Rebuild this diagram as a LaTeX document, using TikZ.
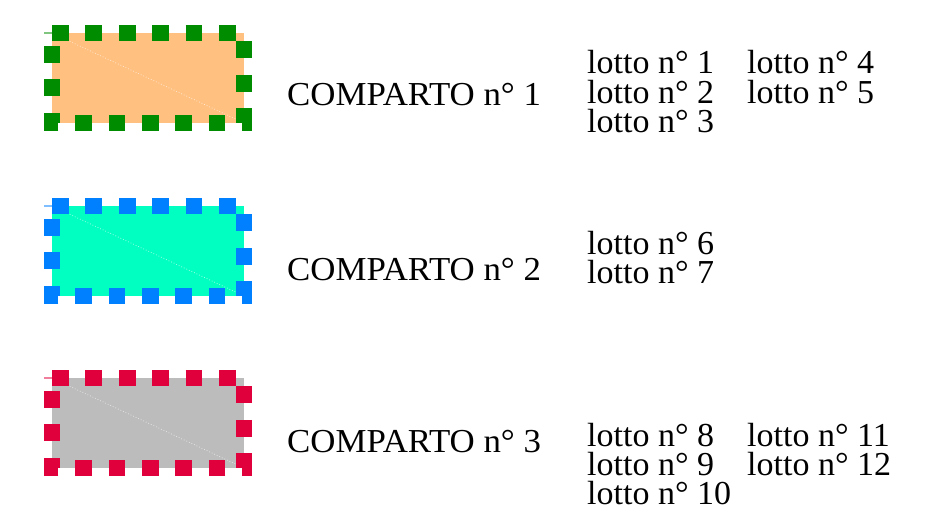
\documentclass[tikz,border=0pt]{standalone}
\usepackage{fontspec}
\setmainfont{Liberation Serif}
\newfontfamily\compfont[FakeStretch=1.04]{Liberation Serif}
\newfontfamily\lotfont[FakeStretch=1.015]{Liberation Serif}
\definecolor{orangefill}{RGB}{255,192,128}
\definecolor{greenline}{RGB}{0,140,0}
\definecolor{cyanfill}{RGB}{0,255,192}
\definecolor{blueline}{RGB}{0,128,255}
\definecolor{grayfill}{RGB}{188,188,188}
\definecolor{redline}{RGB}{224,0,60}
\begin{document}
\begin{tikzpicture}[x=1pt,y=-1pt,
  comptext/.style={anchor=base west, inner sep=0pt, text height=22pt, text depth=5pt, font=\compfont\fontsize{33.5}{30}\selectfont},
  lottext/.style={anchor=base west, inner sep=0pt, text height=22pt, text depth=5pt, font=\lotfont\fontsize{33.5}{30}\selectfont},
  zoneborder/.style={line width=16.7pt, dash pattern=on 16.7pt off 16.7pt, line cap=butt, line join=miter},
  stubline/.style={line width=1.2pt, opacity=0.5},
  diagline/.style={draw=white, line width=0.8pt, dotted, opacity=0.6}]
\useasboundingbox (0,0) rectangle (949,511);

% ---- Comparto 1
\coordinate (a1) at (52,33);
\coordinate (b1) at (244,123);
\fill[orangefill] (a1) rectangle (b1);
\draw[diagline] (a1) -- (b1);
\draw[zoneborder, greenline] (a1) -- (a1 -| b1) -- (b1) -- (b1 -| a1) -- (a1);
\coordinate (s1) at (44,33);
\coordinate (t1) at (44,121);
\draw[stubline, greenline] (s1) -- (a1);
\draw[stubline, greenline] (t1) -- (t1 -| a1);
\node[comptext] (c1) at (287,105) {COMPARTO n° 1};
\node[lottext] (l1) at (587,73) {lotto n° 1};
\node[lottext] (l2) at (587,103) {lotto n° 2};
\node[lottext] (l3) at (587,132) {lotto n° 3};
\node[lottext] (l4) at (747,73) {lotto n° 4};
\node[lottext] (l5) at (747,103) {lotto n° 5};

% ---- Comparto 2
\coordinate (a2) at (52,206);
\coordinate (b2) at (244,296);
\fill[cyanfill] (a2) rectangle (b2);
\draw[diagline] (a2) -- (b2);
\draw[zoneborder, blueline] (a2) -- (a2 -| b2) -- (b2) -- (b2 -| a2) -- (a2);
\coordinate (s2) at (44,206);
\coordinate (t2) at (44,294);
\draw[stubline, blueline] (s2) -- (a2);
\draw[stubline, blueline] (t2) -- (t2 -| a2);
\node[comptext] (c2) at (287,280) {COMPARTO n° 2};
\node[lottext] (l6) at (587,254) {lotto n° 6};
\node[lottext] (l7) at (587,283) {lotto n° 7};

% ---- Comparto 3
\coordinate (a3) at (52,378);
\coordinate (b3) at (244,468);
\fill[grayfill] (a3) rectangle (b3);
\draw[diagline] (a3) -- (b3);
\draw[zoneborder, redline] (a3) -- (a3 -| b3) -- (b3) -- (b3 -| a3) -- (a3);
\coordinate (s3) at (44,378);
\coordinate (t3) at (44,466);
\draw[stubline, redline] (s3) -- (a3);
\draw[stubline, redline] (t3) -- (t3 -| a3);
\node[comptext] (c3) at (287,452) {COMPARTO n° 3};
\node[lottext] (l8) at (587,446) {lotto n° 8};
\node[lottext] (l9) at (587,475) {lotto n° 9};
\node[lottext] (l10) at (587,504) {lotto n° 10};
\node[lottext] (l11) at (747,446) {lotto n° 11};
\node[lottext] (l12) at (747,475) {lotto n° 12};
\end{tikzpicture}
\end{document}
